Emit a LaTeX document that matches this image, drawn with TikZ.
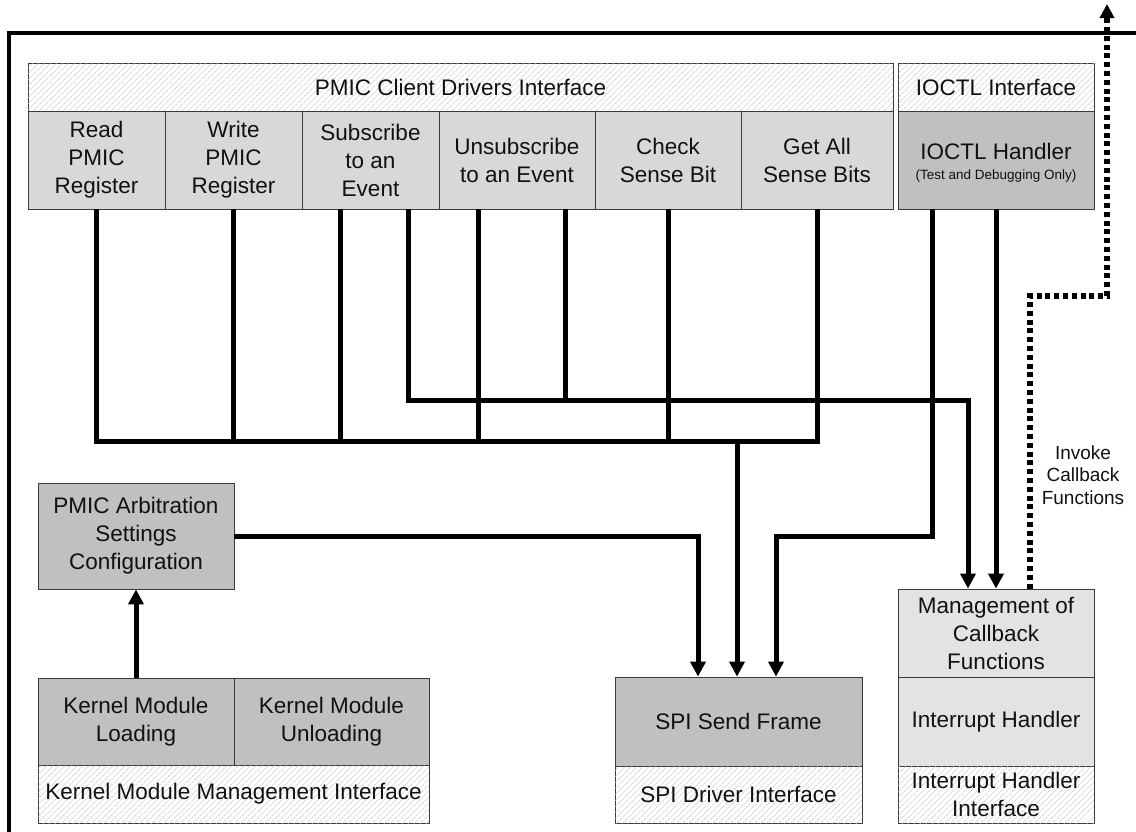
\documentclass[tikz,border=0pt]{standalone}
\usepackage{fontspec}
\setmainfont{Liberation Sans}
\usetikzlibrary{arrows.meta,patterns.meta}

\definecolor{cellgray}{HTML}{D8D8D8}
\definecolor{darkcell}{HTML}{C0C0C0}
\definecolor{palecell}{HTML}{E3E3E3}
\definecolor{hatchgray}{HTML}{C2C2C2}
\definecolor{edgegray}{HTML}{3A3A3A}
\definecolor{inkgray}{HTML}{111111}

\tikzset{
  box/.style={draw=edgegray, line width=0.8pt, inner sep=0pt, align=center,
    text=inkgray, font=\fontsize{22.5}{28}\selectfont},
  lightbox/.style={box, fill=cellgray},
  darkbox/.style={box, fill=darkcell},
  palebox/.style={box, fill=palecell},
  hatchbox/.style={box, fill=white,
    postaction={pattern={Lines[angle=45,distance=4pt,line width=0.6pt]},
                pattern color=hatchgray}},
  boxtext/.style={align=center, inner sep=0pt, text=inkgray,
    font=\fontsize{22.5}{28}\selectfont},
  frameline/.style={line width=4pt},
  wire/.style={line width=5pt, line join=miter},
  arrowwire/.style={wire, -{Triangle[length=15pt,width=15pt]}},
  dotwire/.style={line width=5.5pt, dash pattern=on 5pt off 3.8pt,
    -{Triangle[length=14pt,width=14pt]}},
  note/.style={align=center, text=inkgray, font=\fontsize{19}{22.5}\selectfont},
}

\begin{document}
\begin{tikzpicture}[x=1pt,y=-1pt]
\useasboundingbox (0,0) rectangle (1136,831);

% outer system boundary
\draw[frameline] (9,840) -- (9,33) -- (1145,33);

% client drivers interface
\node[hatchbox, minimum width=865pt, minimum height=48pt] (cdi) at (460.5,87) {PMIC Client Drivers Interface};
\node[lightbox, minimum width=137pt, minimum height=98pt] (read)   at (96.5,160) {Read\\PMIC\\Register};
\node[lightbox, minimum width=137pt, minimum height=98pt] (write)  at (233.5,160) {Write\\PMIC\\Register};
\node[lightbox, minimum width=137pt, minimum height=98pt] (sub)    at (370.5,160) {Subscribe\\to an\\Event};
\node[lightbox, minimum width=156pt, minimum height=98pt] (unsub)  at (517,160) {Unsubscribe\\to an Event};
\node[lightbox, minimum width=146pt, minimum height=98pt] (check)  at (668,160) {Check\\Sense Bit};
\node[lightbox, minimum width=152pt, minimum height=98pt] (getall) at (817,160) {Get All\\Sense Bits};

% ioctl interface
\node[hatchbox, minimum width=196pt, minimum height=48pt] (ioif) at (996,87) {IOCTL Interface};
\node[darkbox, minimum width=196pt, minimum height=98pt] (ioctl) at (996,160) {};
\node[boxtext] (ioctltxt) at (996,163)
  {IOCTL Handler\\[-8pt]{\fontsize{13.5}{15}\selectfont (Test and Debugging Only)}};

% arbitration settings
\node[darkbox, minimum width=196pt, minimum height=106pt] (arb) at (136,536) {PMIC Arbitration\\Settings\\Configuration};

% kernel module management
\node[darkbox, minimum width=196pt, minimum height=87pt] (kload) at (136,721.5) {Kernel Module\\Loading};
\node[darkbox, minimum width=195pt, minimum height=87pt] (kunload) at (331.5,721.5) {Kernel Module\\Unloading};
\node[hatchbox, minimum width=391pt, minimum height=58pt] (kif) at (233.5,794) {Kernel Module Management Interface};

% spi driver
\node[darkbox, minimum width=247pt, minimum height=89pt] (spi) at (738.5,721.5) {SPI Send Frame};
\node[hatchbox, minimum width=247pt, minimum height=57pt] (spiif) at (738.5,794.5) {SPI Driver Interface};

% interrupt handling
\node[palebox, minimum width=196pt, minimum height=88pt] (mgmt) at (996,633) {Management of\\Callback\\Functions};
\node[palebox, minimum width=196pt, minimum height=89pt] (irq) at (996,721.5) {Interrupt Handler};
\node[hatchbox, minimum width=196pt, minimum height=57pt] (irqif) at (996,794.5) {Interrupt Handler\\Interface};

% routing points
\coordinate (lb) at (0,441);
\coordinate (c340) at (340,441);
\coordinate (c478) at (478,441);
\coordinate (c737) at (737,441);
\coordinate (c408) at (408,400);
\coordinate (c565) at (565,400);
\coordinate (ub) at (968,400);
\coordinate (c698) at (698,536);
\coordinate (ioL) at (932,536);
\coordinate (c776) at (776,536);
\coordinate (cbA) at (1030,296);
\coordinate (cbB) at (1107,296);
\coordinate (cbTip) at (1107,4);

% lower bus towards SPI
\draw[wire] (read.south) -- (read.south |- lb) -- (getall.south |- lb) -- (getall.south);
\draw[wire] (write.south) -- (write.south |- lb);
\draw[wire] (sub.south -| c340) -- (c340);
\draw[wire] (unsub.south -| c478) -- (c478);
\draw[wire] (check.south) -- (check.south |- lb);
\draw[arrowwire] (c737) -- (spi.north -| c737);

% upper bus towards callback management
\draw[arrowwire] (sub.south -| c408) -- (c408) -- (ub) -- (mgmt.north -| ub);
\draw[wire] (unsub.south -| c565) -- (c565);

% arbitration and ioctl paths
\draw[arrowwire] (arb.east) -- (c698) -- (spi.north -| c698);
\draw[arrowwire] (ioctl.south -| ioL) -- (ioL) -- (c776) -- (spi.north -| c776);
\draw[arrowwire] (ioctl.south) -- (mgmt.north);
\draw[arrowwire] (kload.north) -- (arb.south);

% callbacks leaving the driver
\draw[dotwire] (mgmt.north -| cbA) -- (cbA) -- (cbB) -- (cbTip);
\node[note] (cblabel) at (1083,475) {Invoke\\Callback\\Functions};
\end{tikzpicture}
\end{document}
